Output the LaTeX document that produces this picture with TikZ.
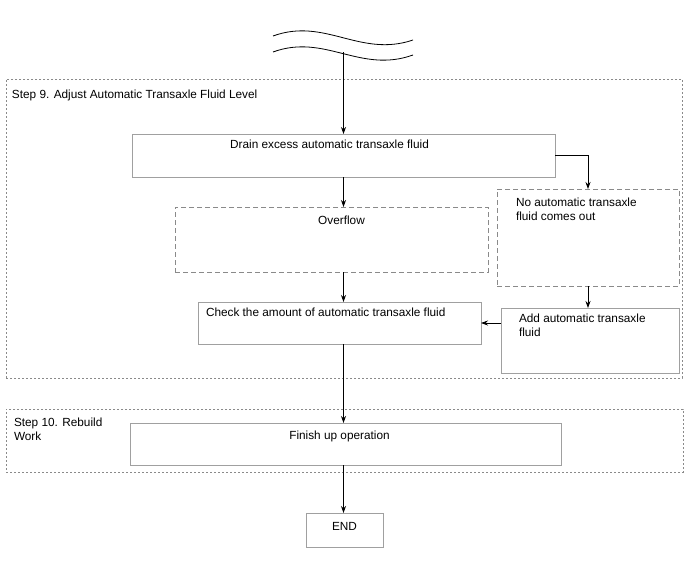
\documentclass[tikz,border=0pt]{standalone}
\usepackage{fontspec}
\setmainfont{Liberation Sans}
\usetikzlibrary{arrows.meta,calc}
\definecolor{boxgray}{HTML}{A0A0A0}
\definecolor{dashgray}{HTML}{8A8A8A}
\tikzset{
  txt/.style={inner sep=0pt, outer sep=0pt, font=\fontsize{11.8}{13.5}\selectfont, align=left, text=black},
  solidbox/.style={draw=boxgray, line width=0.9pt, rectangle, inner sep=0pt, outer sep=0pt, anchor=north west},
  dashbox/.style={draw=dashgray, line width=0.9pt, dash pattern=on 5pt off 3pt, rectangle, inner sep=0pt, outer sep=0pt, anchor=north west},
  stepframe/.style={draw=dashgray, line width=0.9pt, dash pattern=on 2pt off 2pt, rectangle, inner sep=0pt, outer sep=0pt, anchor=north west},
  arr/.style={draw=black, line width=0.8pt, -{Stealth[length=7pt,width=5pt]}},
  plain/.style={draw=black, line width=0.8pt},
}
\begin{document}
\begin{tikzpicture}[x=1pt,y=-1pt]
\useasboundingbox (0,0) rectangle (688,560);
% step frames
\node[stepframe, minimum width=676, minimum height=299,
  label={[txt, anchor=north west, xshift=6pt, yshift=-11pt]north west:Step 9. Adjust Automatic Transaxle Fluid Level}]
  (step9) at (6,79) {};
\node[stepframe, minimum width=677, minimum height=63,
  label={[txt, anchor=north west, xshift=8pt, yshift=-9pt]north west:{Step 10. Rebuild\\Work}}]
  (step10) at (6,409) {};
% wavy break lines
\draw[plain] (273,36) .. controls (325,17) and (360,58) .. (413,40);
\draw[plain] (273,52) .. controls (325,33) and (360,74) .. (413,55);
\coordinate (topc) at (343.5,52);
% boxes
\node[solidbox, minimum width=423, minimum height=43,
  label={[txt, anchor=north, xshift=-14pt, yshift=-6pt]north:Drain excess automatic transaxle fluid}]
  (drain) at (132,134) {};
\node[dashbox, minimum width=313, minimum height=65,
  label={[txt, anchor=north, xshift=10pt, yshift=-9pt]north:Overflow}]
  (overflow) at (175,207) {};
\node[dashbox, minimum width=182, minimum height=97,
  label={[txt, anchor=north west, xshift=19pt, yshift=-9pt]north west:{No automatic transaxle\\fluid comes out}}]
  (noauto) at (497,189) {};
\node[solidbox, minimum width=283, minimum height=42,
  label={[txt, anchor=north west, xshift=8pt, yshift=-6pt]north west:Check the amount of automatic transaxle fluid}]
  (check) at (198,302) {};
\node[solidbox, minimum width=178, minimum height=65,
  label={[txt, anchor=north west, xshift=18pt, yshift=-6pt]north west:{Add automatic transaxle\\fluid}}]
  (add) at (501,308) {};
\node[solidbox, minimum width=431, minimum height=42,
  label={[txt, anchor=north, xshift=-6pt, yshift=-8pt]north:Finish up operation}]
  (finish) at (130,423) {};
\node[solidbox, minimum width=77, minimum height=34,
  label={[txt, anchor=north, yshift=-9pt]north:END}]
  (endb) at (306,513) {};
% connectors
\draw[arr] (topc) -- (topc |- drain.north);
\draw[arr] (drain.east) -| (noauto.north);
\draw[arr] (topc |- drain.south) -- (topc |- overflow.north);
\draw[arr] (topc |- overflow.south) -- (topc |- check.north);
\draw[arr] (noauto.south) -- (noauto.south |- add.north);
\draw[arr] (add.west |- 0,323) -- (check.east |- 0,323);
\draw[arr] (topc |- check.south) -- (topc |- finish.north);
\draw[arr] (topc |- finish.south) -- (topc |- endb.north);
\end{tikzpicture}
\end{document}
